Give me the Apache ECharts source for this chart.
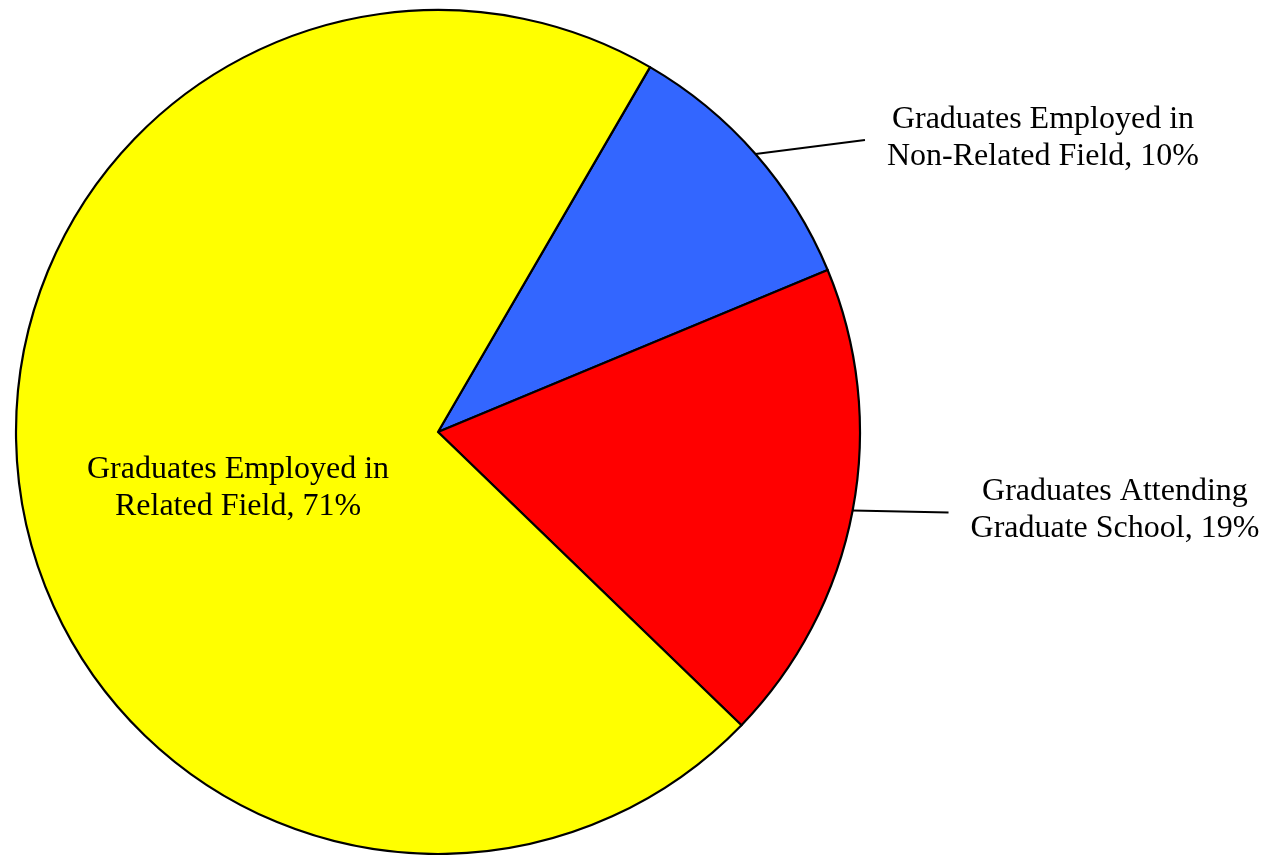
<!DOCTYPE html>
<html>
<head>
<meta charset="utf-8">
<script src="https://cdn.jsdelivr.net/npm/echarts@6/dist/echarts.min.js"></script>
<style>
html,body{margin:0;padding:0;background:#fff;}
#chart{width:1274px;height:855px;}
</style>
</head>
<body>
<div id="chart"></div>
<script>
// Data (clockwise from the top-right boundary)
const categories = [
  'Graduates Employed in\nNon-Related Field',
  'Graduates Attending\nGraduate School',
  'Graduates Employed in\nRelated Field'
];
const values = [10.35, 18.5, 71.15];
const colors = ['#3366FF', '#FF0000', '#FFFF00'];

const chart = echarts.init(document.getElementById('chart'));

const labelFont = {
  fontFamily: '"Liberation Serif", "Times New Roman", serif',
  fontSize: 32,
  lineHeight: 37,
  color: '#000'
};

// label-line styling per outside item
const lineLens = [{length: 6, length2: 105, dist: 22, endDy: -10, textDy: -12},
                  {length: 6, length2: 90, dist: 22, endDy: 1, textDy: -2}];

const data = categories.map((c, i) => {
  const item = {
    name: c,
    value: values[i],
    itemStyle: {color: colors[i]}
  };
  if (i < 2) {
    item.label = Object.assign({position: 'outside', distanceToLabelLine: lineLens[i].dist}, labelFont);
    item.labelLine = {show: true, length: lineLens[i].length, length2: lineLens[i].length2,
      smooth: false, lineStyle: {color: '#000', width: 2}};
  } else {
    item.label = Object.assign({position: 'inner'}, labelFont);
    item.labelLine = {show: false};
  }
  return item;
});

chart.setOption({
  animation: false,
  backgroundColor: '#fff',
  series: [{
    type: 'pie',
    center: [438, 432],
    radius: 422,
    startAngle: 59.84,
    clockwise: true,
    avoidLabelOverlap: false,
    percentPrecision: 0,
    emphasis: {disabled: true, scale: false},
    itemStyle: {borderColor: '#000', borderWidth: 2.2},
    label: {formatter: '{b}, {d}%'},
    data: data,
    labelLayout: function (params) {
      const r = params.labelRect;
      const i = params.dataIndex;
      if (i === 2) {
        return {dx: 12, dy: 27};
      }
      const cfg = lineLens[i];
      const pts = params.labelLinePoints;
      const start = pts[0];
      const end = [pts[2][0], pts[2][1] + cfg.endDy];
      return {
        x: r.x + r.width / 2,
        y: r.y + r.height / 2 + cfg.textDy,
        align: 'center',
        verticalAlign: 'middle',
        labelLinePoints: [start, [(start[0] + end[0]) / 2, (start[1] + end[1]) / 2], end]
      };
    }
  }]
});
</script>
</body>
</html>
